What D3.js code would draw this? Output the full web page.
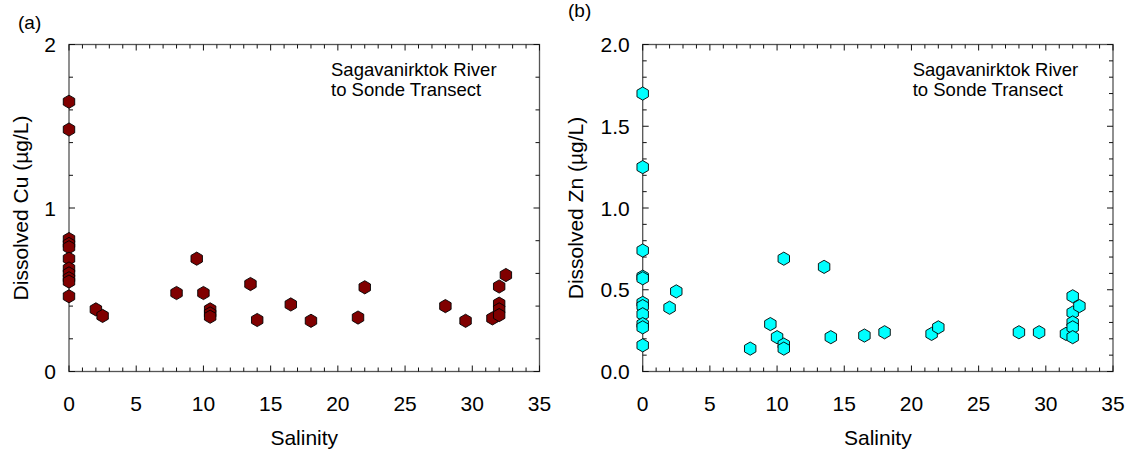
<!DOCTYPE html>
<html>
<head>
<meta charset="utf-8">
<script src="https://cdn.jsdelivr.net/npm/d3@7"></script>
<style>
  html, body { margin: 0; padding: 0; background: #fff; }
  svg { display: block; font-family: "Liberation Sans", Arial, sans-serif; }
</style>
</head>
<body>
<svg id="chart" width="1130" height="449"></svg>
<script>
// Dissolved copper along the salinity transect
const cuSalinity = [0, 0, 0, 0, 0, 0, 0, 0, 0, 0, 0,
  2, 2.5, 8, 9.5, 10, 10.5, 10.5, 10.5, 13.5, 14, 16.5, 18, 21.5, 22,
  28, 29.5, 31.5, 32, 32, 32, 32, 32.5];
const cuValue = [1.65, 1.48, 0.81, 0.78, 0.76, 0.69, 0.63, 0.60, 0.57, 0.55, 0.46,
  0.38, 0.34, 0.48, 0.69, 0.48, 0.38, 0.355, 0.335, 0.535, 0.315, 0.41, 0.31, 0.33, 0.515,
  0.40, 0.31, 0.325, 0.52, 0.415, 0.38, 0.345, 0.59];

// Dissolved zinc along the same transect
const znSalinity = [0, 0, 0, 0, 0, 0, 0, 0, 0, 0, 0,
  2, 2.5, 8, 9.5, 10, 10.5, 10.5, 10.5, 13.5, 14, 16.5, 18, 21.5, 22,
  28, 29.5, 31.5, 32, 32, 32, 32, 32, 32.5];
const znValue = [1.70, 1.25, 0.74, 0.58, 0.57, 0.42, 0.40, 0.35, 0.29, 0.27, 0.16,
  0.39, 0.49, 0.14, 0.29, 0.21, 0.69, 0.165, 0.14, 0.64, 0.21, 0.22, 0.24, 0.23, 0.27,
  0.24, 0.24, 0.23, 0.46, 0.36, 0.30, 0.27, 0.21, 0.40];

const xTickValues = [0, 5, 10, 15, 20, 25, 30, 35];
const cuTickValues = [0, 1, 2];
const znTickValues = [0, 0.5, 1.0, 1.5, 2.0];

const svg = d3.select("#chart");
const plotTop = 44.5, plotBottom = 371.5;

function hexPath(r) {
  const pts = d3.range(6).map(i => {
    const a = Math.PI / 2 + i * Math.PI / 3;
    return [r * Math.cos(a), -r * Math.sin(a)];
  });
  return "M" + pts.map(p => p.join(",")).join("L") + "Z";
}

function drawPanel(cfg) {
  const g = svg.append("g");
  const x = d3.scaleLinear().domain([0, 35]).range([cfg.left, cfg.right]);
  const y = d3.scaleLinear().domain([0, 2]).range([plotBottom, plotTop]);

  const minorX = d3.range(0, 35.001, 1);
  const minorY = d3.range(0, 2.0001, cfg.minorStep);

  // frame
  g.append("rect")
    .attr("x", cfg.left).attr("y", plotTop)
    .attr("width", cfg.right - cfg.left).attr("height", plotBottom - plotTop)
    .attr("fill", "none").attr("stroke", "#555").attr("stroke-width", 1.3);

  const isMajorX = v => xTickValues.some(t => Math.abs(t - v) < 1e-6);
  const isMajorY = v => cfg.yTicks.some(t => Math.abs(t - v) < 1e-6);

  // inward ticks on all four sides
  const tickG = g.append("g").attr("stroke", "#111").attr("stroke-width", 1);
  minorX.forEach(v => {
    const len = isMajorX(v) ? 6 : 4;
    tickG.append("line").attr("x1", x(v)).attr("x2", x(v))
      .attr("y1", plotBottom).attr("y2", plotBottom - len);
    tickG.append("line").attr("x1", x(v)).attr("x2", x(v))
      .attr("y1", plotTop).attr("y2", plotTop + len);
  });
  minorY.forEach(v => {
    const len = isMajorY(v) ? 6 : 4;
    tickG.append("line").attr("x1", cfg.left).attr("x2", cfg.left + len)
      .attr("y1", y(v)).attr("y2", y(v));
    tickG.append("line").attr("x1", cfg.right).attr("x2", cfg.right - len)
      .attr("y1", y(v)).attr("y2", y(v));
  });

  // tick labels
  g.append("g").selectAll("text").data(xTickValues).join("text")
    .attr("x", d => x(d)).attr("y", 411)
    .attr("text-anchor", "middle").attr("font-size", 21)
    .text(d => d);
  g.append("g").selectAll("text").data(cfg.yTicks).join("text")
    .attr("x", cfg.left - 13).attr("y", d => y(d) + 7.5)
    .attr("text-anchor", "end").attr("font-size", 21)
    .text(cfg.yFormat);

  // axis titles
  g.append("text")
    .attr("x", (cfg.left + cfg.right) / 2).attr("y", 445)
    .attr("text-anchor", "middle").attr("font-size", 21)
    .text("Salinity");
  g.append("text")
    .attr("transform", `translate(${cfg.titleX},${(plotTop + plotBottom) / 2}) rotate(-90)`)
    .attr("text-anchor", "middle").attr("font-size", 21)
    .text(cfg.yTitle);

  // panel letter
  g.append("text").attr("x", cfg.letterX).attr("y", cfg.letterY)
    .attr("font-size", 19).text(cfg.letter);

  // annotation
  const ann = g.append("text").attr("font-size", 18.5);
  ann.append("tspan").attr("x", cfg.left + cfg.annDx).attr("y", 76).text("Sagavanirktok River");
  ann.append("tspan").attr("x", cfg.left + cfg.annDx).attr("y", 96).text("to Sonde Transect");

  // data markers
  const hex = hexPath(6.6);
  g.append("g").selectAll("path").data(cfg.sal.map((s, i) => [s, cfg.val[i]])).join("path")
    .attr("d", hex)
    .attr("transform", d => `translate(${x(d[0])},${y(d[1])})`)
    .attr("fill", cfg.color).attr("stroke", "#000").attr("stroke-width", 0.9);
}

drawPanel({
  left: 69, right: 539.5, minorStep: 0.2, yTicks: cuTickValues,
  yFormat: d => d3.format("d")(d), yTitle: "Dissolved Cu (\u00b5g/L)", titleX: 28,
  letter: "(a)", letterX: 18, letterY: 29, annDx: 262,
  sal: cuSalinity, val: cuValue, color: "#800000"
});
drawPanel({
  left: 642.7, right: 1113, minorStep: 0.1, yTicks: znTickValues,
  yFormat: d => d3.format(".1f")(d), yTitle: "Dissolved Zn (\u00b5g/L)", titleX: 583,
  letter: "(b)", letterX: 568, letterY: 17, annDx: 270,
  sal: znSalinity, val: znValue, color: "#00ffff"
});
</script>
</body>
</html>
